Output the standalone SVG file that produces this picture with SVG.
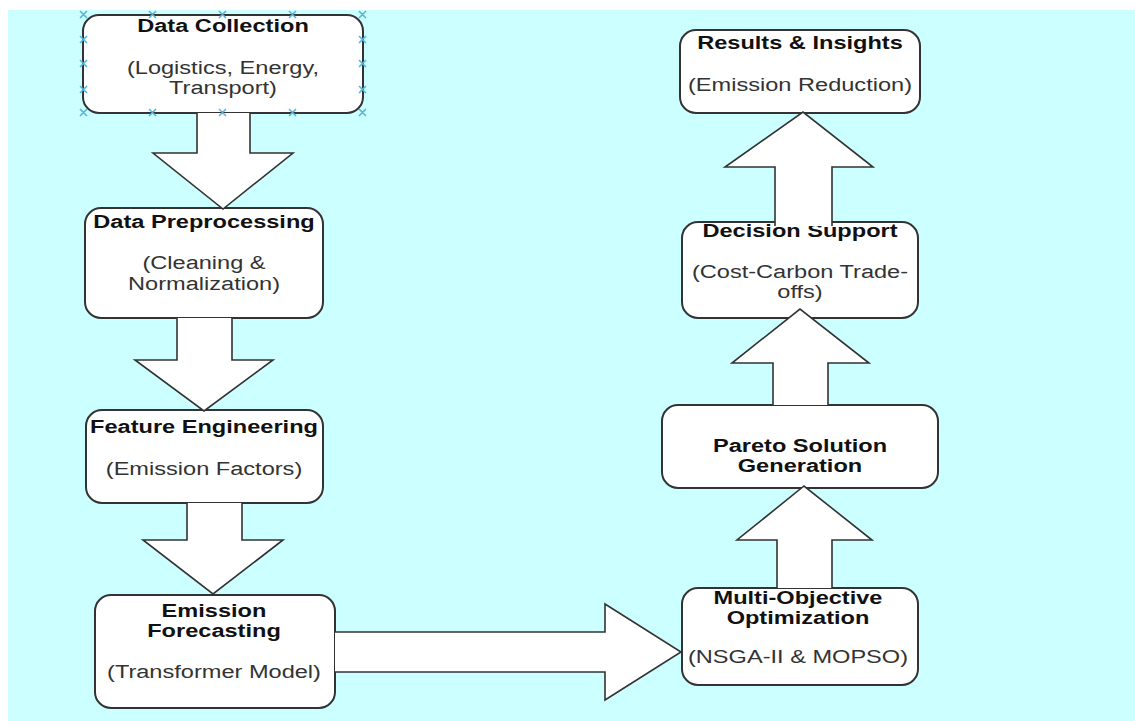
<svg xmlns="http://www.w3.org/2000/svg" width="1135" height="721" viewBox="0 0 1135 721">
<style>
.node rect{fill:#ffffff;stroke:#333333;stroke-width:2}
.t{font-family:"Liberation Sans",Arial,sans-serif;font-size:18px;text-anchor:middle}
.b{font-weight:bold;fill:#111111}
.r{fill:#333333}
#connectors path{fill:#ffffff;stroke:#333333;stroke-width:1.6;stroke-linejoin:miter}
#handles path{stroke:#56b6dc;stroke-width:1.6;fill:none}
</style>
<rect x="0" y="0" width="1135" height="721" fill="#ffffff"/>
<rect x="8" y="10" width="1127" height="711" fill="#ccffff"/>

<g id="node-data-collection" class="node">
<rect x="83" y="15" width="280" height="98" rx="16"/>
<g transform="translate(223,0) scale(1.31,1)">
<text class="t b" x="0" y="32">Data Collection</text>
<text class="t r" x="0" y="74">(Logistics, Energy,</text>
<text class="t r" x="0" y="94">Transport)</text>
</g>
</g>

<g id="node-data-preprocessing" class="node">
<rect x="85" y="208" width="238" height="110" rx="16"/>
<g transform="translate(204,0) scale(1.31,1)">
<text class="t b" x="0" y="228">Data Preprocessing</text>
<text class="t r" x="0" y="269">(Cleaning &amp;</text>
<text class="t r" x="0" y="290">Normalization)</text>
</g>
</g>

<g id="node-feature-engineering" class="node">
<rect x="86" y="410" width="237" height="93" rx="16"/>
<g transform="translate(204,0) scale(1.31,1)">
<text class="t b" x="0" y="433">Feature Engineering</text>
<text class="t r" x="0" y="475">(Emission Factors)</text>
</g>
</g>

<g id="node-emission-forecasting" class="node">
<rect x="95" y="595" width="240" height="113" rx="16"/>
<g transform="translate(214,0) scale(1.31,1)">
<text class="t b" x="0" y="617">Emission</text>
<text class="t b" x="0" y="637">Forecasting</text>
<text class="t r" x="0" y="678">(Transformer Model)</text>
</g>
</g>

<g id="node-multi-objective" class="node">
<rect x="682" y="588" width="236" height="97" rx="16"/>
<g transform="translate(798,0) scale(1.31,1)">
<text class="t b" x="0" y="604">Multi-Objective</text>
<text class="t b" x="0" y="624">Optimization</text>
<text class="t r" x="0" y="663">(NSGA-II &amp; MOPSO)</text>
</g>
</g>

<g id="node-pareto" class="node">
<rect x="662" y="405" width="276" height="83" rx="16"/>
<g transform="translate(800,0) scale(1.31,1)">
<text class="t b" x="0" y="452">Pareto Solution</text>
<text class="t b" x="0" y="472">Generation</text>
</g>
</g>

<g id="node-decision-support" class="node">
<rect x="682" y="222" width="236" height="96" rx="16"/>
<g transform="translate(800,0) scale(1.31,1)">
<text class="t b" x="0" y="237">Decision Support</text>
<text class="t r" x="0" y="278">(Cost-Carbon Trade-</text>
<text class="t r" x="0" y="298">offs)</text>
</g>
</g>

<g id="node-results" class="node">
<rect x="680" y="30" width="240" height="83" rx="16"/>
<g transform="translate(800,0) scale(1.31,1)">
<text class="t b" x="0" y="49">Results &amp; Insights</text>
<text class="t r" x="0" y="91">(Emission Reduction)</text>
</g>
</g>

<g id="connectors">
<path d="M197,113 L197,153 L153,153 L223,209 L293,153 L250,153 L250,113"/>
<path d="M177,318 L177,360 L135,360 L204,411 L273,360 L232,360 L232,318"/>
<path d="M187,503 L187,540 L143,540 L213,594 L283,540 L242,540 L242,503"/>
<path d="M335,632 L605,632 L605,604 L681,652 L605,700 L605,672 L335,672"/>
<path d="M777,588 L777,540 L737,540 L804,486 L872,540 L832,540 L832,588"/>
<path d="M773,405 L773,363 L732,363 L800,309 L869,363 L828,363 L828,405"/>
<path d="M775,226 L775,167 L725,167 L803,112 L873,167 L832,167 L832,226"/>
</g>

<g id="handles">
<path d="M80,11 l7,7 m0,-7 l-7,7 M149,11 l7,7 m0,-7 l-7,7 M219,11 l7,7 m0,-7 l-7,7 M289,11 l7,7 m0,-7 l-7,7 M359,11 l7,7 m0,-7 l-7,7"/>
<path d="M80,109 l7,7 m0,-7 l-7,7 M149,109 l7,7 m0,-7 l-7,7 M219,109 l7,7 m0,-7 l-7,7 M289,109 l7,7 m0,-7 l-7,7 M359,109 l7,7 m0,-7 l-7,7"/>
<path d="M80,36 l7,7 m0,-7 l-7,7 M80,60 l7,7 m0,-7 l-7,7 M80,86 l7,7 m0,-7 l-7,7"/>
<path d="M359,36 l7,7 m0,-7 l-7,7 M359,60 l7,7 m0,-7 l-7,7 M359,86 l7,7 m0,-7 l-7,7"/>
</g>
</svg>
